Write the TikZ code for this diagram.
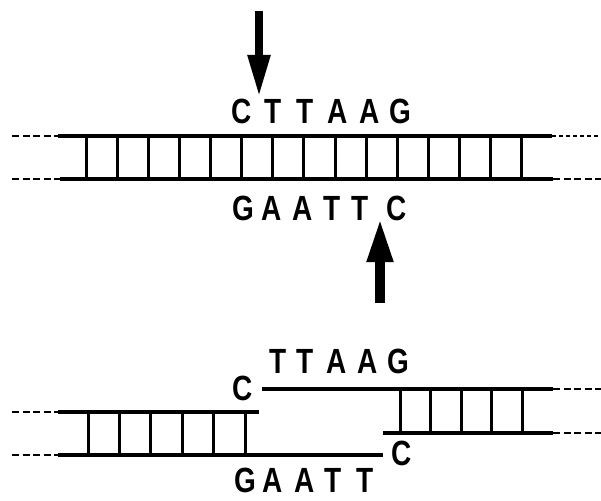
\documentclass[tikz,border=0pt]{standalone}
\usepackage{fontspec}
\setmainfont{Liberation Sans}
\newfontfamily\dnafont[FakeStretch=0.8]{Liberation Sans}
\usetikzlibrary{arrows.meta}

\begin{document}
\begin{tikzpicture}[x=1pt, y=-1pt,
		strand/.style={line width=3.4pt},
		rung/.style={line width=3pt},
		tail/.style={line width=2.6pt, dash pattern=on 7pt off 3.5pt},
		dots/.style={line width=2.6pt, dash pattern=on 4pt off 3pt},
		base/.style={font=\dnafont\fontsize{35}{35}\selectfont\bfseries, inner sep=0pt, anchor=base},
		cut/.style={-{Triangle[length=42pt, width=21pt]}, line width=8pt}
		]
		\useasboundingbox (0,0) rectangle (601,500);

		% uncut duplex
		\draw[tail] (12,136) -- (58,136);
		\draw[tail] (12,179) -- (60,179);
		\draw[strand] (58,136) -- (552,136);
		\draw[strand] (60,179) -- (553,179);
		\draw[dots] (552,136) -- (601,136);
		\draw[tail] (553,179) -- (601,179);
		\foreach \i in {0,...,14}
			\draw[rung] (86+31.14*\i,136) -- (86+31.14*\i,179);

		\foreach \l/\x [count=\n] in {C/242, T/273, T/305, A/338, A/370, G/400}
			\node[base] (top\n) at (\x,123) {\l};
		\foreach \l/\x [count=\n] in {G/243, A/272, A/303, T/332, T/360, C/397}
			\node[base] (bot\n) at (\x,220) {\l};

		\coordinate (cutA) at (259,11);
		\coordinate (cutB) at (380,303);
		\draw[cut] (cutA) -- (259,97);
		\draw[cut, -{Triangle[length=44pt, width=24pt]}, line width=10pt] (cutB) -- (380,218);

		% sticky ends
		\draw[tail] (12,412) -- (58,412);
		\draw[tail] (12,455) -- (58,455);
		\draw[strand] (58,412) -- (259,412);
		\draw[strand] (58,455) -- (383,455);
		\foreach \i in {0,...,5}
			\draw[rung] (88+31.4*\i,412) -- (88+31.4*\i,455);

		\draw[strand] (262,389) -- (553,389);
		\draw[strand] (383,433) -- (553,433);
		\draw[tail] (553,389) -- (601,389);
		\draw[tail] (553,433) -- (601,433);
		\foreach \i in {0,...,4}
			\draw[rung] (400+30.5*\i,389) -- (400+30.5*\i,433);

		\node[base] (cL) at (243,400) {C};
		\node[base] (cR) at (402,465) {C};
		\foreach \l/\x [count=\n] in {T/278, T/305, A/337, A/368, G/398}
			\node[base] (up\n) at (\x,373) {\l};
		\foreach \l/\x [count=\n] in {G/245, A/273, A/305, T/333, T/365}
			\node[base] (lo\n) at (\x,492) {\l};
	\end{tikzpicture}
\end{document}
